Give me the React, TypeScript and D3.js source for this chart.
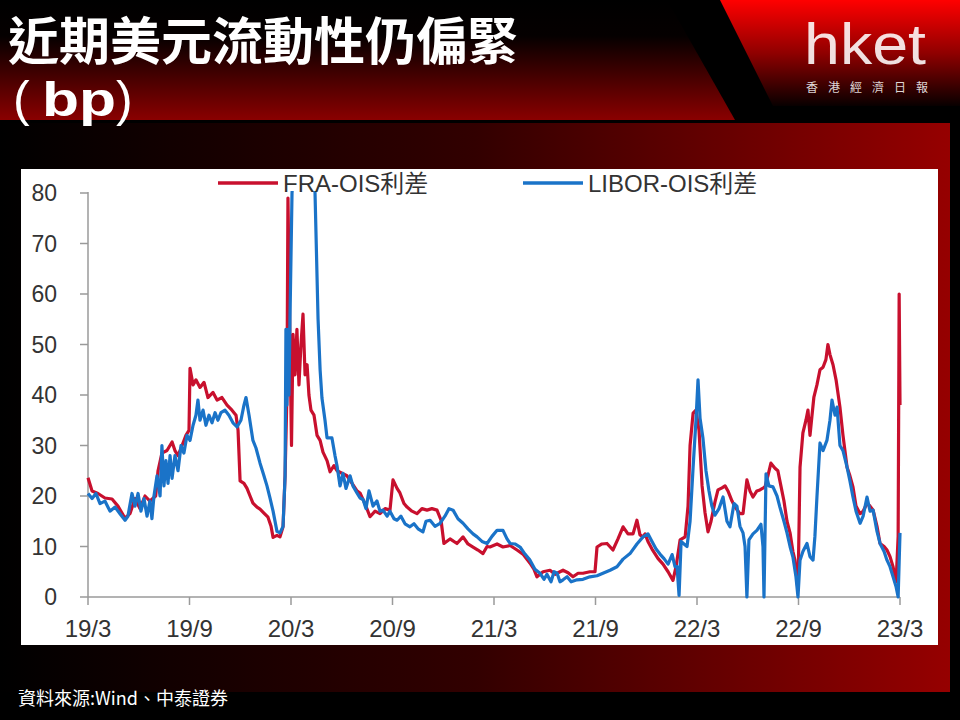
import React from 'react';
import * as d3 from 'd3';

const tickMonths = [0, 6, 12, 18, 24, 30, 36, 42, 48];
const tickLabels = ['19/3', '19/9', '20/3', '20/9', '21/3', '21/9', '22/3', '22/9', '23/3'];
const yTicks = [0, 10, 20, 30, 40, 50, 60, 70, 80];
const seriesNames = ['FRA-OIS利差', 'LIBOR-OIS利差'];

// [months since 2019-03, bp]
const fraSeries: [number, number][] = [
  [0,23.6],[0.24,21],[0.59,20.5],[1.0,19.6],[1.42,19.4],[1.77,18],[2.19,15.6],[2.48,16.5],[2.78,19.5],[3.07,17.5],[3.37,20],[3.66,19],[4.0,20],[4.14,25],[4.37,28.5],[4.67,29],[4.97,30.7],[5.14,29],[5.32,28],[5.56,30],[5.79,32],[5.97,33],[6.03,45.3],[6.21,42],[6.38,43],[6.62,41.5],[6.86,42.5],[7.09,39.5],[7.39,40.5],[7.63,39],[7.92,39.5],[8.22,38],[8.51,37],[8.75,36],[8.87,33],[8.99,23],[9.22,22.5],[9.4,21.5],[9.58,20],[9.75,18.6],[9.99,17.8],[10.17,17.4],[10.4,16.6],[10.64,15.8],[10.82,14],[10.94,11.8],[11.17,12.2],[11.35,11.9],[11.53,13.9],[11.65,24],[11.76,40],[11.82,79],[11.94,50],[12.03,30],[12.12,52],[12.24,44],[12.35,53],[12.47,42],[12.59,50],[12.71,56],[12.83,44],[12.95,46],[13.06,40],[13.18,37],[13.36,36],[13.54,32],[13.72,31],[13.89,28.7],[14.13,27],[14.31,24.8],[14.54,26],[14.72,25],[15.01,24.5],[15.31,24],[15.61,22.5],[15.9,21],[16.08,20.6],[16.37,18.5],[16.67,15.9],[16.97,17],[17.26,16.5],[17.56,17.5],[17.85,17.2],[18.03,23.2],[18.27,21.5],[18.44,20.6],[18.68,18.5],[18.86,17.8],[19.15,17],[19.45,16.5],[19.74,17.5],[20.04,17.2],[20.33,17.5],[20.63,17.2],[20.87,15.2],[21.04,10.6],[21.4,11.5],[21.81,10.6],[22.17,11.9],[22.46,10.5],[22.76,9.9],[23.05,9.3],[23.35,8.6],[23.59,10],[23.76,9.9],[24.18,10.5],[24.53,9.9],[24.95,10.2],[25.36,9.3],[25.71,8.5],[26.13,6.7],[26.36,5.5],[26.54,4],[26.9,5],[27.31,5.3],[27.61,4.5],[28.08,5.3],[28.38,4.8],[28.67,4],[28.97,4.7],[29.26,4.7],[29.67,5],[29.97,5],[30.09,9.9],[30.38,10.5],[30.68,10.6],[31.03,9.3],[31.33,11.5],[31.63,13.9],[31.92,12.5],[32.22,12.5],[32.45,15.2],[32.63,12.3],[32.81,11.9],[32.93,12.5],[33.1,11],[33.34,9.5],[33.7,7.6],[33.99,6.5],[34.29,5],[34.58,3.3],[34.76,6],[35.0,11.3],[35.3,11.9],[35.47,18],[35.59,30],[35.77,36.4],[35.94,37],[36.12,33],[36.3,22],[36.47,16.8],[36.65,12.9],[36.83,15],[37.06,18.8],[37.24,21.2],[37.48,21.6],[37.66,22],[37.83,21],[38.07,19],[38.25,17.8],[38.54,16.5],[38.72,16.5],[38.95,23.2],[39.13,21],[39.31,19.8],[39.54,21],[39.72,21.2],[40.02,21.8],[40.19,24],[40.37,26.5],[40.61,25.5],[40.78,25],[40.96,22],[41.14,19],[41.32,15],[41.5,12.7],[41.67,9],[41.79,7.3],[41.97,1.4],[42.09,25.7],[42.26,32.5],[42.44,35],[42.56,37],[42.68,32],[42.8,36],[42.91,39.6],[43.09,42],[43.27,45],[43.45,45.5],[43.62,47],[43.74,50],[43.86,48],[44.04,46],[44.22,43],[44.45,37.6],[44.63,32],[44.87,25.7],[45.04,24],[45.22,21.8],[45.4,18],[45.64,16.5],[45.82,17],[46.05,18.5],[46.23,18],[46.41,17.2],[46.64,14],[46.82,10.6],[47.06,10],[47.23,9.3],[47.41,8],[47.59,6],[47.77,3],[47.89,12],[47.95,60],[48.0,38]
];

const liborSeries: [number, number][] = [
  [0,20.5],[0.24,19.5],[0.47,20.5],[0.71,18.5],[1.0,19],[1.3,17],[1.6,17.8],[1.89,16.5],[2.19,15.2],[2.36,16],[2.6,20.5],[2.78,18],[2.96,20.5],[3.13,17],[3.31,19.5],[3.49,16],[3.66,19],[3.78,15.5],[3.9,20],[4.08,24],[4.26,20],[4.37,30],[4.49,22],[4.61,27],[4.73,22.5],[4.85,28],[4.97,23.5],[5.14,28],[5.32,25],[5.5,30],[5.67,28.5],[5.85,32],[6.03,31],[6.21,34],[6.38,36],[6.5,39],[6.62,35],[6.8,37],[6.97,34],[7.15,36],[7.33,34.5],[7.51,36.5],[7.68,35],[7.86,36.5],[8.1,37],[8.33,36],[8.57,34.5],[8.81,33.7],[9.04,35],[9.22,38],[9.34,39.5],[9.52,36],[9.75,31],[9.93,29.5],[10.17,26.5],[10.4,24],[10.58,22],[10.76,19.6],[10.94,17],[11.17,13],[11.35,12.7],[11.53,14],[11.65,24],[11.7,53],[11.76,38],[11.82,53],[11.88,40],[11.94,55],[12.06,80],[12.18,86],[12.35,95],[12.83,120],[13.24,92],[13.42,80],[13.6,55],[13.72,45],[13.83,39.4],[14.01,35],[14.13,31.5],[14.42,31.5],[14.6,28],[14.72,26],[14.9,22],[15.07,24.5],[15.25,21.5],[15.49,24],[15.66,22],[15.9,20.6],[16.08,19.6],[16.26,19.3],[16.43,17.5],[16.61,21],[16.85,18],[17.08,19],[17.26,17],[17.44,17.2],[17.68,16],[17.85,17],[18.09,15.5],[18.27,15.2],[18.5,16],[18.74,14.5],[19.03,13.9],[19.27,14.5],[19.51,13.5],[19.8,12.9],[19.98,15],[20.22,15.2],[20.51,14],[20.81,14.6],[21.1,16],[21.34,17.5],[21.58,17.2],[21.87,15.5],[22.17,14.6],[22.46,13.5],[22.76,12.5],[23.0,11.9],[23.29,11],[23.59,10.6],[23.88,12],[24.18,13.2],[24.53,13.2],[24.77,11.5],[24.95,10.6],[25.24,10.5],[25.54,9.9],[25.83,8.5],[26.13,7.3],[26.42,5.5],[26.72,4.7],[26.96,3.5],[27.13,4.5],[27.37,3],[27.55,5],[27.73,4.7],[27.9,3],[28.08,3.4],[28.32,4],[28.56,3],[28.91,3.4],[29.26,3.5],[29.67,4],[30.09,4.2],[30.44,4.7],[30.86,5.3],[31.27,6],[31.63,7.5],[32.04,8.6],[32.45,10.5],[32.81,11.9],[33.1,12.5],[33.34,11],[33.58,9.5],[33.81,8.5],[34.05,7.6],[34.29,6.5],[34.53,8.4],[34.7,6],[34.82,6],[34.94,0.3],[35.06,11],[35.23,10.5],[35.41,10],[35.59,15],[35.77,25.7],[35.94,35],[36.06,43],[36.18,35.4],[36.35,31.5],[36.53,25],[36.71,21],[36.88,18],[37.06,16.2],[37.3,17.5],[37.54,19.8],[37.77,15],[37.95,13.9],[38.19,18.5],[38.36,18],[38.54,14],[38.72,12.7],[38.84,10],[38.95,0],[39.07,11.3],[39.31,12.5],[39.54,13.2],[39.78,14.4],[39.9,10],[39.96,0],[40.08,24.4],[40.25,22],[40.49,21.8],[40.73,20],[40.9,17.8],[41.14,15],[41.32,12.7],[41.5,10],[41.67,7.9],[41.85,4],[41.97,0],[42.09,7.3],[42.26,9],[42.5,10.6],[42.68,8],[42.86,7.3],[42.97,12],[43.09,19.8],[43.27,30.5],[43.45,29],[43.68,31],[43.86,35],[43.98,39],[44.16,36],[44.28,37.6],[44.45,30],[44.63,29],[44.87,25.7],[45.04,23],[45.22,19.8],[45.4,17],[45.64,14.6],[45.82,16],[46.05,19.8],[46.23,17],[46.41,17.2],[46.64,13],[46.82,10.6],[47.06,9],[47.23,7.3],[47.41,6],[47.59,4],[47.77,2],[47.89,0],[48.0,12.7]
];

const RED = '#c8102e';
const BLUE = '#1a73c8';

export default function App() {
  const x = d3.scaleLinear().domain([0, 48]).range([88, 900]);
  const y = d3.scaleLinear().domain([0, 80]).range([597, 193]);
  const line = d3.line<[number, number]>().x(d => x(d[0])).y(d => y(d[1]));
  const axisColor = '#9a9a9a';
  const textColor = '#333';
  const latin = '"Liberation Sans", Arial, "Noto Sans CJK TC", sans-serif';
  const cjk = '"Noto Sans CJK TC", "Noto Sans CJK SC", sans-serif';

  return (
    <svg width={960} height={720} style={{ position: 'absolute', left: 0, top: 0 }}>
      <defs>
        <linearGradient id="titleGrad" x1="0" y1="0" x2="0" y2="1">
          <stop offset="0" stopColor="#000" />
          <stop offset="0.3" stopColor="#050000" />
          <stop offset="1" stopColor="#8a0000" />
        </linearGradient>
        <linearGradient id="logoGrad" x1="0" y1="0" x2="0" y2="1">
          <stop offset="0" stopColor="#ff0000" />
          <stop offset="0.5" stopColor="#900000" />
          <stop offset="1" stopColor="#080000" />
        </linearGradient>
        <linearGradient id="panelGrad" x1="0" y1="0" x2="1" y2="0">
          <stop offset="0" stopColor="#000" />
          <stop offset="0.5" stopColor="#320000" />
          <stop offset="1" stopColor="#960000" />
        </linearGradient>
        <clipPath id="plotClip">
          <rect x={x(0) - 5} y={y(80) - 2} width={x(48) - x(0) + 10} height={y(0) - y(80) + 10} />
        </clipPath>
      </defs>
      <rect x={0} y={0} width={960} height={720} fill="#000" />
      <polygon points="0,0 667,0 735,120 0,120" fill="url(#titleGrad)" />
      <polygon points="720,0 960,0 960,106 773,106" fill="url(#logoGrad)" />
      <rect x={0} y={123} width={950} height={569} fill="url(#panelGrad)" />

      <text x={8} y={60} fill="#fff" fontFamily={cjk} fontWeight={700} fontSize={51}>近期美元流動性仍偏緊</text>
      <text y={116} fill="#fff" fontFamily='"Liberation Sans", Arial, sans-serif' fontSize={50}>
        <tspan x={13} fontWeight={400}>(</tspan>
        <tspan x={42} fontWeight={700} fontSize={48} textLength={74} lengthAdjust="spacingAndGlyphs">bp</tspan>
        <tspan x={116} fontWeight={400}>)</tspan>
      </text>

      <text x={804} y={64} fill="#fff" fillOpacity={0.88} fontFamily='"Liberation Sans", Arial, sans-serif' fontSize={58} textLength={122} lengthAdjust="spacingAndGlyphs">hket</text>
      <text x={806} y={92} fill="#fff" fillOpacity={0.85} fontFamily={cjk} fontSize={12} textLength={122} lengthAdjust="spacing">香港經濟日報</text>

      <rect x={21} y={169} width={917} height={476} fill="#fff" />

      {/* axes */}
      <line x1={x(0)} x2={x(0)} y1={y(80) - 1} y2={y(0)} stroke={axisColor} strokeWidth={1.5} />
      <line x1={x(0)} x2={x(48)} y1={y(0)} y2={y(0)} stroke={axisColor} strokeWidth={1.5} />
      {yTicks.map(t => (
        <g key={'y' + t}>
          <line x1={x(0) - 8} x2={x(0)} y1={y(t)} y2={y(t)} stroke={axisColor} strokeWidth={1.5} />
          <text x={57} y={y(t) + 8} textAnchor="end" fill={textColor} fontFamily={latin} fontSize={23}>{t}</text>
        </g>
      ))}
      {tickMonths.map((m, i) => (
        <g key={'x' + m}>
          <line x1={x(m)} x2={x(m)} y1={y(0)} y2={y(0) + 8} stroke={axisColor} strokeWidth={1.5} />
          <text x={x(m)} y={637} textAnchor="middle" fill={textColor} fontFamily={latin} fontSize={24}>{tickLabels[i]}</text>
        </g>
      ))}

      <g clipPath="url(#plotClip)">
        <path d={line(fraSeries) || ''} fill="none" stroke={RED} strokeWidth={3.2} strokeLinejoin="round" />
        <path d={line(liborSeries) || ''} fill="none" stroke={BLUE} strokeWidth={3.2} strokeLinejoin="round" />
      </g>

      {/* legend */}
      <line x1={218} x2={278} y1={183} y2={183} stroke={RED} strokeWidth={3.5} />
      <text x={283} y={192} fill={textColor} fontFamily={latin} fontSize={24}>{seriesNames[0]}</text>
      <line x1={523} x2={583} y1={183} y2={183} stroke={BLUE} strokeWidth={3.5} />
      <text x={588} y={192} fill={textColor} fontFamily={latin} fontSize={24}>{seriesNames[1]}</text>

      <text x={18} y={705} fill="#fff" fontFamily={cjk} fontSize={18}>資料來源:Wind、中泰證券</text>
    </svg>
  );
}
